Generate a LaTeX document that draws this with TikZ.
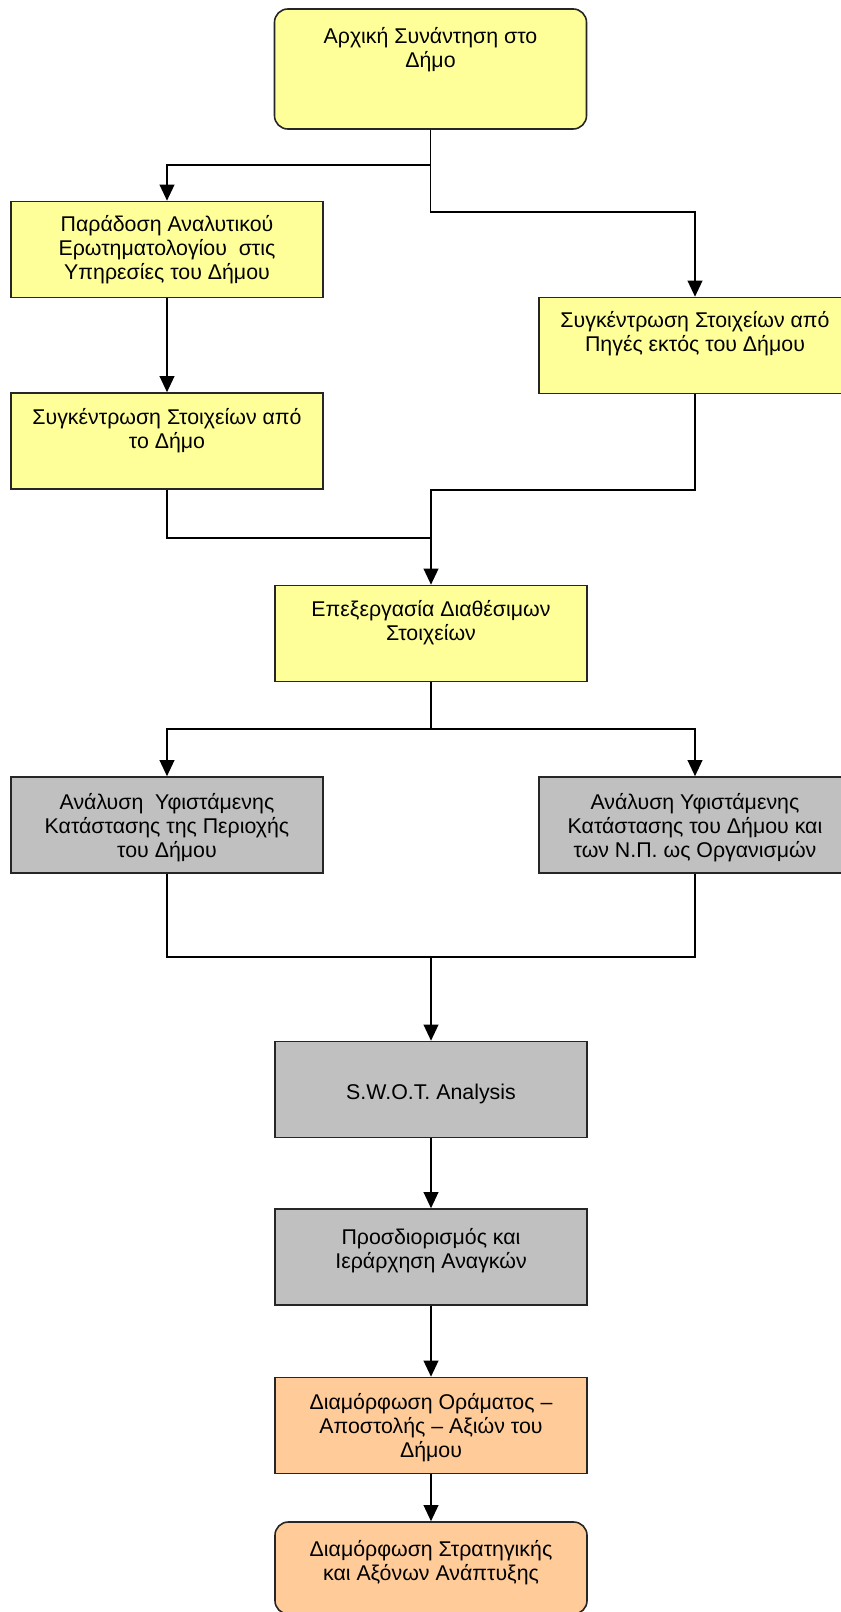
\documentclass[tikz,border=0pt]{standalone}
\usepackage{fontspec}
\setmainfont{Liberation Sans}
\usetikzlibrary{arrows.meta}
\definecolor{byellow}{RGB}{255,255,153}
\definecolor{bgray}{RGB}{192,192,192}
\definecolor{borange}{RGB}{255,204,153}
\begin{document}
\begin{tikzpicture}[x=0.75pt,y=-0.75pt,
  box/.style={draw=black!85,line width=1.2pt,minimum width=234pt,minimum height=72pt,inner sep=0pt},
  ybox/.style={box,fill=byellow},
  gbox/.style={box,fill=bgray},
  obox/.style={box,fill=borange},
  txt/.style={anchor=north,inner sep=0pt,align=center,font=\fontsize{16}{18}\selectfont},
  line/.style={draw=black,line width=1.2pt},
  arr/.style={line,-{Triangle[length=12pt,width=11pt]}}]
\useasboundingbox (0,0) rectangle (840,1612);
% boxes
\node[ybox,rounded corners=10pt,minimum height=90pt] (b1) at (430.5,69) {};
\node[ybox] (b2) at (167,249.5) {};
\node[ybox] (b3) at (167,441) {};
\node[ybox] (b4) at (695,345.5) {};
\node[ybox] (b5) at (431,633.5) {};
\node[gbox] (g1) at (167,825) {};
\node[gbox] (g2) at (695,825) {};
\node[gbox] (sw) at (431,1089.5) {};
\node[gbox] (pr) at (431,1257) {};
\node[obox] (or) at (431,1425.5) {};
\node[obox,rounded corners=10pt,minimum height=69pt] (fin) at (431,1568) {};
% texts
\node[txt] (b1t) at (430.5,27.5) {Αρχική Συνάντηση στο\\Δήμο};
\node[txt] (b2t) at (167,215.5) {Παράδοση Αναλυτικού\\Ερωτηματολογίου~ στις\\Υπηρεσίες του Δήμου};
\node[txt] (b3t) at (167,408.5) {Συγκέντρωση Στοιχείων από\\το Δήμο};
\node[txt] (b4t) at (695,311.5) {Συγκέντρωση Στοιχείων από\\Πηγές εκτός του Δήμου};
\node[txt] (b5t) at (431,600.5) {Επεξεργασία Διαθέσιμων\\Στοιχείων};
\node[txt] (g1t) at (167,793.5) {Ανάλυση~ Υφιστάμενης\\Κατάστασης της Περιοχής\\του Δήμου};
\node[txt] (g2t) at (695,793.5) {Ανάλυση Υφιστάμενης\\Κατάστασης του Δήμου και\\των Ν.Π. ως Οργανισμών};
\node[txt] (swt) at (431,1083.5) {S.W.O.T. Analysis};
\node[txt] (prt) at (431,1228.5) {Προσδιορισμός και\\Ιεράρχηση Αναγκών};
\node[txt] (ort) at (431,1393.5) {Διαμόρφωση Οράματος –\\Αποστολής – Αξιών του\\Δήμου};
\node[txt] (fint) at (431,1540.5) {Διαμόρφωση Στρατηγικής\\και Αξόνων Ανάπτυξης};
% junctions
\coordinate (j1) at (430.5,165);
\coordinate (j2) at (430.5,212);
\coordinate (j3) at (431,538);
\coordinate (j4) at (431,490);
\coordinate (j5) at (431,729);
\coordinate (j6) at (431,957);
% connectors
\draw[arr] (b1.south) -- (j1) -| (b2.north);
\draw[arr] (j1) -- (j2) -| (b4.north);
\draw[arr] (b2) -- (b3);
\draw[line] (b3.south) |- (j3);
\draw[line] (b4.south) |- (j4) -- (j3);
\draw[arr] (j3) -- (b5.north);
\draw[line] (b5.south) -- (j5);
\draw[arr] (j5) -| (g1.north);
\draw[arr] (j5) -| (g2.north);
\draw[line] (g1.south) |- (j6);
\draw[line] (g2.south) |- (j6);
\draw[arr] (j6) -- (sw.north);
\draw[arr] (sw) -- (pr);
\draw[arr] (pr) -- (or);
\draw[arr] (or) -- (fin);
\end{tikzpicture}
\end{document}
